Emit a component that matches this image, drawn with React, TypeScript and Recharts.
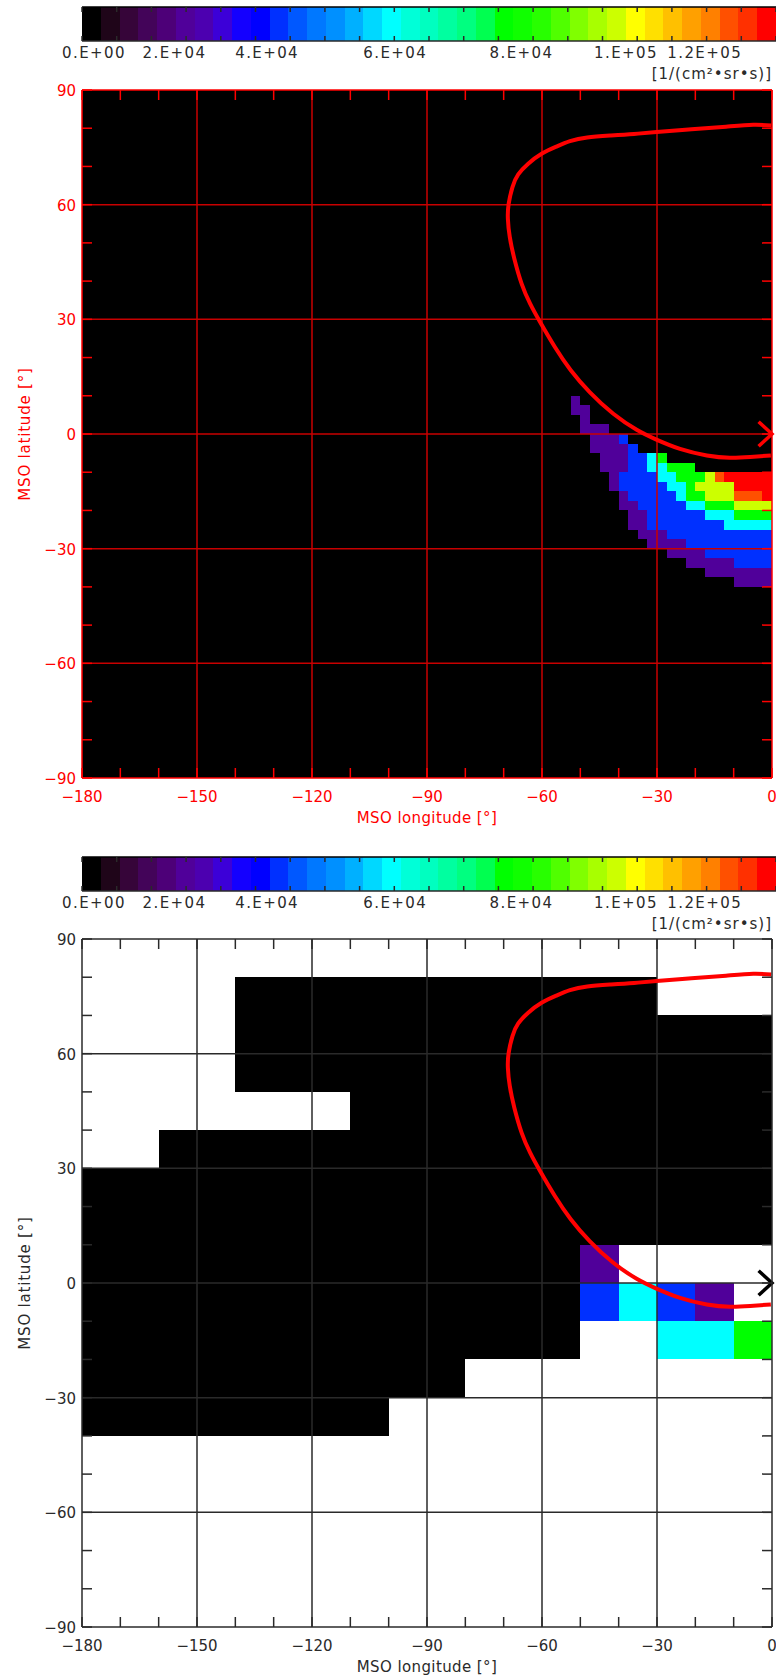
import React from "react";
import {
  Bar,
  BarChart,
  ComposedChart,
  Line,
  ReferenceArea,
  ReferenceLine,
  XAxis,
  YAxis,
} from "recharts";

const FONT = "'DejaVu Sans', sans-serif";
const INK = "#2a2a2a";
const BAR_H = 34;
const MAP_W = 690;
const MAP_H = 688;

// colour table of the bar, left to right
const palette = [
  "#000000", "#1f0519", "#360539", "#430459", "#4d0078", "#50009a", "#4c00b0", "#3c00d8",
  "#1400ff", "#0000ff", "#0030ff", "#0058ff", "#0078ff", "#0090ff", "#00b0ff", "#00d8ff",
  "#00ffff", "#00ffd8", "#00ffc0", "#00ffa0", "#00ff80", "#00ff50", "#00ff00", "#10ff00",
  "#28ff00", "#50ff00", "#80ff00", "#a8ff00", "#ccff00", "#ffff00", "#ffe000", "#ffc000",
  "#ffa000", "#ff8000", "#ff5000", "#ff3000", "#ff0000",
];
const K = 0; // black
const P = 5; // purple
const B = 10; // blue
const C = 16; // cyan
const G = 22; // green
const Y = 28; // yellow green
const O = 34; // orange
const R = 36; // red

const barTicks = [
  0, 1.85, 3.7, 5.55, 7.4, 9.25, 11.1, 12.95, 14.8, 16.65, 18.5, 20.35, 22.2, 24.05, 25.9,
  27.75, 29.6, 31.45, 33.3, 35.15, 37,
];
const barLabelStops = [0.64, 4.93, 9.87, 16.7, 23.43, 29.0, 33.2];
const barLabels = ["0.E+00", "2.E+04", "4.E+04", "6.E+04", "8.E+04", "1.E+05", "1.2E+05"];
const barUnit = "[1/(cm²•sr•s)]";

const lonTicks = [
  -180, -170, -160, -150, -140, -130, -120, -110, -100, -90, -80, -70, -60, -50, -40, -30,
  -20, -10, 0,
];
const latTicks = [
  -90, -80, -70, -60, -50, -40, -30, -20, -10, 0, 10, 20, 30, 40, 50, 60, 70, 80, 90,
];
const lonGrid = [-150, -120, -90, -60, -30];
const latGrid = [-60, -30, 0, 30, 60];

// upper map: 2.5 degree cells. Each band has a top latitude and runs [west, east, colour]
const fineBandTop = [
  10, 7.5, 5, 2.5, 0, -2.5, -5, -7.5, -10, -12.5, -15, -17.5, -20, -22.5, -25, -27.5, -30,
  -32.5, -35, -37.5,
];
const fineBandRuns = [
  [[-52.5, -50, P]],
  [[-52.5, -47.5, P]],
  [[-50, -47.5, P]],
  [[-50, -42.5, P]],
  [[-47.5, -40, P], [-40, -37.5, B]],
  [[-47.5, -37.5, P], [-37.5, -35, B]],
  [[-45, -37.5, P], [-37.5, -32.5, B], [-32.5, -30, C], [-30, -27.5, G]],
  [[-45, -37.5, P], [-37.5, -32.5, B], [-32.5, -27.5, C], [-27.5, -20, G]],
  [[-42.5, -40, P], [-40, -30, B], [-30, -25, C], [-25, -17.5, G], [-17.5, -15, Y], [-15, -12.5, O], [-12.5, 0, R]],
  [[-42.5, -40, P], [-40, -27.5, B], [-27.5, -22.5, C], [-22.5, -20, G], [-20, -10, Y], [-10, 0, R]],
  [[-40, -37.5, P], [-37.5, -25, B], [-25, -22.5, C], [-22.5, -17.5, G], [-17.5, -10, Y], [-10, -2.5, O], [-2.5, 0, R]],
  [[-40, -35, P], [-35, -22.5, B], [-22.5, -17.5, C], [-17.5, -10, G], [-10, 0, Y]],
  [[-37.5, -32.5, P], [-32.5, -17.5, B], [-17.5, -10, C], [-10, 0, G]],
  [[-37.5, -32.5, P], [-32.5, -12.5, B], [-12.5, 0, C]],
  [[-35, -27.5, P], [-27.5, 0, B]],
  [[-32.5, -22.5, P], [-22.5, 0, B]],
  [[-27.5, -17.5, P], [-17.5, 0, B]],
  [[-22.5, -10, P], [-10, 0, B]],
  [[-17.5, 0, P]],
  [[-10, 0, P]],
];

// lower map: 10 degree cells, white where nothing was measured
const coarseBandTop = [80, 70, 60, 50, 40, 30, 20, 10, 0, -10, -20, -30];
const coarseBandRuns = [
  [[-140, -30, K]],
  [[-140, 0, K]],
  [[-140, 0, K]],
  [[-110, 0, K]],
  [[-160, 0, K]],
  [[-180, 0, K]],
  [[-180, 0, K]],
  [[-180, -50, K], [-50, -40, P]],
  [[-180, -50, K], [-50, -40, B], [-40, -30, C], [-30, -20, B], [-20, -10, P]],
  [[-180, -50, K], [-30, -10, C], [-10, 0, G]],
  [[-180, -80, K]],
  [[-180, -100, K]],
];

const boundaryLon = [
  -0.2, -4.9, -12, -21, -30.1, -36, -42, -48.2, -52.7, -56.2, -60.1, -63.6, -66.2, -67.7,
  -68.7, -68.9, -68.4, -67.2, -65.3, -63.1, -60.5, -56.6, -52.5, -47.5, -41.4, -35.3, -30.3,
  -24, -17, -11, -5.7, -0.3,
];
const boundaryLat = [
  80.7, 80.9, 80.4, 79.7, 79, 78.5, 78.1, 77.6, 76.6, 75.2, 73.3, 70.7, 67.9, 64.6, 60.2,
  56.3, 51.5, 45.8, 39.3, 34.1, 29.3, 22.7, 16.7, 10.9, 5.3, 1.1, -1.4, -3.9, -5.6, -6.2,
  -6, -5.6,
];
const arrowLon = [-3.5, 0, -3.5];
const arrowLat = [3.2, 0, -3.2];

const boundary = boundaryLon.map((lon, i) => ({ lon, lat: boundaryLat[i] }));
const arrow = arrowLon.map((lon, i) => ({ lon, lat: arrowLat[i] }));

const minus = (v: number) => String(v).replace("-", "\u2212");

const ColorBar = ({ top }: { top: number }) => {
  const row: any = { name: "flux" };
  palette.forEach((_, i) => {
    row[`c${i}`] = 1;
  });

  const barTick = (props: any) => {
    const { x, y, payload } = props;
    const at = barLabelStops.indexOf(payload.value);
    if (at >= 0) {
      return (
        <text x={x} y={y + 17} textAnchor="middle" fontFamily={FONT} fontSize={15} letterSpacing={1.4} fill={INK}>
          {barLabels[at]}
        </text>
      );
    }
    return (
      <g>
        <line x1={x} x2={x} y1={y} y2={y - 5} stroke={INK} strokeWidth={1.5} />
        <line x1={x} x2={x} y1={y - BAR_H} y2={y - BAR_H + 5} stroke={INK} strokeWidth={1.5} />
      </g>
    );
  };

  return (
    <div style={{ position: "absolute", left: 0, top: top - 4 }}>
      <BarChart
        width={776}
        height={72}
        data={[row]}
        layout="vertical"
        barCategoryGap={0}
        margin={{ top: 0, right: 0, bottom: 0, left: 82 }}
      >
        <XAxis
          type="number"
          domain={[0, palette.length]}
          ticks={[...barTicks, ...barLabelStops]}
          interval={0}
          height={BAR_H}
          tickLine={false}
          tickSize={0}
          tickMargin={0}
          tick={barTick}
          axisLine={{ stroke: INK, strokeWidth: 1.5 }}
        />
        <XAxis
          xAxisId="top"
          orientation="top"
          type="number"
          domain={[0, palette.length]}
          height={4}
          tick={false}
          tickLine={false}
          axisLine={{ stroke: "#000", strokeWidth: 1.5 }}
        />
        <YAxis type="category" dataKey="name" hide />
        {palette.map((color, i) => (
          <Bar
            key={color}
            dataKey={`c${i}`}
            stackId="bar"
            fill={color}
            shapeRendering="crispEdges"
            isAnimationActive={false}
          />
        ))}
      </BarChart>
      <svg width={776} height={24} style={{ position: "absolute", left: 0, top: 60 }}>
        <text x={772} y={16} textAnchor="end" fontFamily={FONT} fontSize={15} letterSpacing={1} fill={INK}>
          {barUnit}
        </text>
      </svg>
    </div>
  );
};

type MapProps = {
  top: number;
  ink: string;
  gridInk: string;
  arrowInk: string;
  background?: string;
  bandTop: number[];
  bandRuns: number[][][];
  bandStep: number;
};

const MapPanel = ({ top, ink, gridInk, arrowInk, background, bandTop, bandRuns, bandStep }: MapProps) => {
  const lonTick = (props: any) => {
    const { x, y, payload } = props;
    return (
      <g>
        <line x1={x} x2={x} y1={y} y2={y - 10} stroke={ink} strokeWidth={1.5} />
        <line x1={x} x2={x} y1={y - MAP_H} y2={y - MAP_H + 10} stroke={ink} strokeWidth={1.5} />
        {payload.value % 30 === 0 && (
          <text x={x} y={y + 24} textAnchor="middle" fontFamily={FONT} fontSize={15} fill={ink}>
            {minus(payload.value)}
          </text>
        )}
      </g>
    );
  };
  const latTick = (props: any) => {
    const { x, y, payload } = props;
    return (
      <g>
        <line x1={x} x2={x + 10} y1={y} y2={y} stroke={ink} strokeWidth={1.5} />
        <line x1={x + MAP_W} x2={x + MAP_W - 10} y1={y} y2={y} stroke={ink} strokeWidth={1.5} />
        {payload.value % 30 === 0 && (
          <text x={x - 6} y={y + 6} textAnchor="end" fontFamily={FONT} fontSize={15} fill={ink}>
            {minus(payload.value)}
          </text>
        )}
      </g>
    );
  };

  return (
    <div style={{ position: "absolute", left: 0, top: top - 12 }}>
      <ComposedChart
        width={776}
        height={750}
        margin={{ top: 8, right: 0, bottom: 0, left: 0 }}
      >
        <XAxis
          dataKey="lon"
          type="number"
          domain={[-180, 0]}
          ticks={lonTicks}
          interval={0}
          height={50}
          tickLine={false}
          tickSize={0}
          tickMargin={0}
          tick={lonTick}
          axisLine={{ stroke: ink, strokeWidth: 1.5 }}
          label={{
            value: "MSO longitude [°]",
            position: "insideBottom",
            offset: 5,
            fill: ink,
            fontFamily: FONT,
            fontSize: 15,
            letterSpacing: 0.4,
          }}
        />
        <XAxis
          xAxisId="top"
          orientation="top"
          type="number"
          domain={[-180, 0]}
          height={4}
          tick={false}
          tickLine={false}
          axisLine={{ stroke: ink, strokeWidth: 1.5 }}
        />
        <YAxis
          type="number"
          domain={[-90, 90]}
          ticks={latTicks}
          interval={0}
          width={82}
          tickLine={false}
          tickSize={0}
          tickMargin={0}
          tick={latTick}
          axisLine={{ stroke: ink, strokeWidth: 1.5 }}
          label={{
            value: "MSO latitude [°]",
            angle: -90,
            position: "insideLeft",
            offset: 25,
            fill: ink,
            fontFamily: FONT,
            fontSize: 15,
            letterSpacing: 0.8,
            style: { textAnchor: "middle" },
          }}
        />
        <YAxis
          yAxisId="right"
          orientation="right"
          type="number"
          domain={[-90, 90]}
          width={4}
          tick={false}
          tickLine={false}
          axisLine={{ stroke: ink, strokeWidth: 1.5 }}
        />
        {background && (
          <ReferenceArea x1={-180} x2={0} y1={-90} y2={90} fill={background} fillOpacity={1} stroke="none" />
        )}
        {bandRuns.flatMap((runs, i) =>
          runs.map(([west, east, level]) => (
            <ReferenceArea
              key={`${i}-${west}`}
              x1={west}
              x2={east}
              y1={bandTop[i] - bandStep}
              y2={bandTop[i]}
              fill={palette[level]}
              fillOpacity={1}
              stroke="none"
              shapeRendering="crispEdges"
            />
          ))
        )}
        {lonGrid.map((v) => (
          <ReferenceLine key={`lon${v}`} x={v} stroke={gridInk} strokeWidth={1.5} />
        ))}
        {latGrid.map((v) => (
          <ReferenceLine key={`lat${v}`} y={v} stroke={gridInk} strokeWidth={1.5} />
        ))}
        <Line
          data={boundary}
          dataKey="lat"
          type="natural"
          stroke="#ff0000"
          strokeWidth={4}
          strokeLinejoin="round"
          dot={false}
          legendType="none"
          isAnimationActive={false}
        />
        <Line
          data={arrow}
          dataKey="lat"
          type="linear"
          stroke={arrowInk}
          strokeWidth={3.5}
          dot={false}
          legendType="none"
          isAnimationActive={false}
        />
      </ComposedChart>
    </div>
  );
};

export default function App() {
  return (
    <div style={{ position: "absolute", left: 0, top: 0, width: 776, height: 1677, background: "#fff" }}>
      <ColorBar top={7} />
      <MapPanel
        top={90}
        ink="#ff0000"
        gridInk="#c80000"
        arrowInk="#ff0000"
        background="#000000"
        bandTop={fineBandTop}
        bandRuns={fineBandRuns}
        bandStep={2.5}
      />
      <ColorBar top={857} />
      <MapPanel
        top={939}
        ink={INK}
        gridInk={INK}
        arrowInk="#000000"
        bandTop={coarseBandTop}
        bandRuns={coarseBandRuns}
        bandStep={10}
      />
    </div>
  );
}
